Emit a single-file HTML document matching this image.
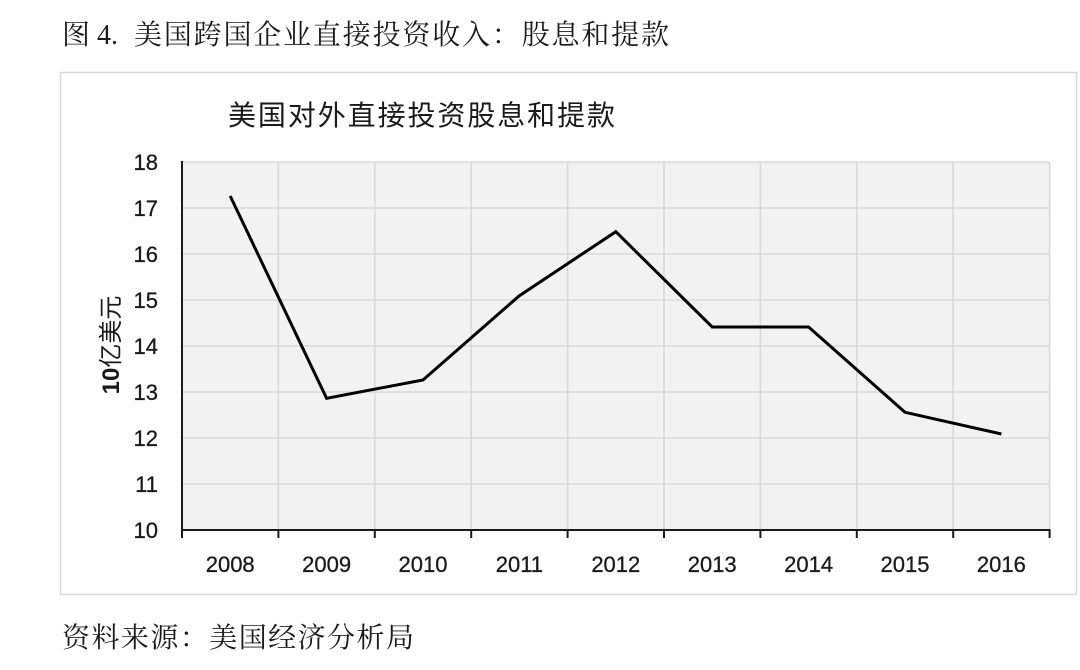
<!DOCTYPE html>
<html>
<head>
<meta charset="utf-8">
<style>
html,body{margin:0;padding:0;background:#fff;}
svg{display:block;}
</style>
</head>
<body>
<svg width="1080" height="670" viewBox="0 0 1080 670" xmlns="http://www.w3.org/2000/svg">
  <rect x="0" y="0" width="1080" height="670" fill="#ffffff"/>
  <!-- Main title -->
  <text x="62" y="44" font-family="'Liberation Serif','Noto Serif CJK SC',serif" font-size="28" fill="#1a1a1a">图</text>
  <text x="97" y="44" font-family="'Liberation Serif','Noto Serif CJK SC',serif" font-size="28" fill="#1a1a1a">4.</text>
  <text x="134" y="44" font-family="'Liberation Serif','Noto Serif CJK SC',serif" font-size="28" fill="#1a1a1a" textLength="535" lengthAdjust="spacing">美国跨国企业直接投资收入：股息和提款</text>

  <!-- Chart box -->
  <rect x="60.5" y="72.5" width="1016" height="522" fill="#ffffff" stroke="#d9d9d9" stroke-width="1.5"/>

  <!-- Chart title -->
  <text x="228" y="125" font-family="'Liberation Sans','Noto Sans CJK SC',sans-serif" font-size="28" fill="#1a1a1a" textLength="387" lengthAdjust="spacing">美国对外直接投资股息和提款</text>

  <!-- Plot area -->
  <rect x="182" y="162" width="867.6" height="368" fill="#f2f2f2"/>
  <g stroke="#d9d9d9" stroke-width="1.6">
    <line x1="182" y1="162" x2="1049.6" y2="162"/>
    <line x1="182" y1="208" x2="1049.6" y2="208"/>
    <line x1="182" y1="254" x2="1049.6" y2="254"/>
    <line x1="182" y1="300" x2="1049.6" y2="300"/>
    <line x1="182" y1="346" x2="1049.6" y2="346"/>
    <line x1="182" y1="392" x2="1049.6" y2="392"/>
    <line x1="182" y1="438" x2="1049.6" y2="438"/>
    <line x1="182" y1="484" x2="1049.6" y2="484"/>
    <line x1="278.4" y1="162" x2="278.4" y2="530"/>
    <line x1="374.8" y1="162" x2="374.8" y2="530"/>
    <line x1="471.2" y1="162" x2="471.2" y2="530"/>
    <line x1="567.6" y1="162" x2="567.6" y2="530"/>
    <line x1="664" y1="162" x2="664" y2="530"/>
    <line x1="760.4" y1="162" x2="760.4" y2="530"/>
    <line x1="856.8" y1="162" x2="856.8" y2="530"/>
    <line x1="953.2" y1="162" x2="953.2" y2="530"/>
    <line x1="1049.6" y1="162" x2="1049.6" y2="530"/>
  </g>

  <!-- Axes -->
  <g stroke="#1a1a1a" stroke-width="2">
    <line x1="182" y1="161" x2="182" y2="538"/>
    <line x1="181" y1="530" x2="1050.6" y2="530"/>
    <line x1="278.4" y1="530" x2="278.4" y2="538"/>
    <line x1="374.8" y1="530" x2="374.8" y2="538"/>
    <line x1="471.2" y1="530" x2="471.2" y2="538"/>
    <line x1="567.6" y1="530" x2="567.6" y2="538"/>
    <line x1="664" y1="530" x2="664" y2="538"/>
    <line x1="760.4" y1="530" x2="760.4" y2="538"/>
    <line x1="856.8" y1="530" x2="856.8" y2="538"/>
    <line x1="953.2" y1="530" x2="953.2" y2="538"/>
    <line x1="1049.6" y1="530" x2="1049.6" y2="538"/>
  </g>

  <!-- Y tick labels -->
  <g font-family="'Liberation Sans',sans-serif" font-size="22" fill="#1a1a1a" stroke="#1a1a1a" stroke-width="0.3" text-anchor="end">
    <text x="158" y="170">18</text>
    <text x="158" y="216">17</text>
    <text x="158" y="262">16</text>
    <text x="158" y="308">15</text>
    <text x="158" y="354">14</text>
    <text x="158" y="400">13</text>
    <text x="158" y="446">12</text>
    <text x="158" y="492">11</text>
    <text x="158" y="538">10</text>
  </g>

  <!-- X tick labels -->
  <g font-family="'Liberation Sans',sans-serif" font-size="22" fill="#1a1a1a" stroke="#1a1a1a" stroke-width="0.3" text-anchor="middle">
    <text x="230.2" y="572">2008</text>
    <text x="326.6" y="572">2009</text>
    <text x="423" y="572">2010</text>
    <text x="519.4" y="572">2011</text>
    <text x="615.8" y="572">2012</text>
    <text x="712.2" y="572">2013</text>
    <text x="808.6" y="572">2014</text>
    <text x="905" y="572">2015</text>
    <text x="1001.4" y="572">2016</text>
  </g>

  <!-- Y axis title -->
  <text transform="translate(119,345) rotate(-90)" text-anchor="middle" font-family="'Liberation Sans','Noto Sans CJK SC',sans-serif" font-size="24" fill="#1a1a1a"><tspan font-weight="bold">10</tspan>亿美元</text>

  <!-- Data line -->
  <polyline fill="none" stroke="#000000" stroke-width="3" stroke-linejoin="miter"
    points="230.2,196 326.6,398.3 423,380 519.4,295.7 615.8,231.7 712.2,327 808.6,327 905,412.3 1001.4,434"/>

  <!-- Source -->
  <text x="62" y="647" font-family="'Liberation Serif','Noto Serif CJK SC',serif" font-size="28" fill="#1a1a1a" textLength="352" lengthAdjust="spacing">资料来源：美国经济分析局</text>
</svg>
</body>
</html>
